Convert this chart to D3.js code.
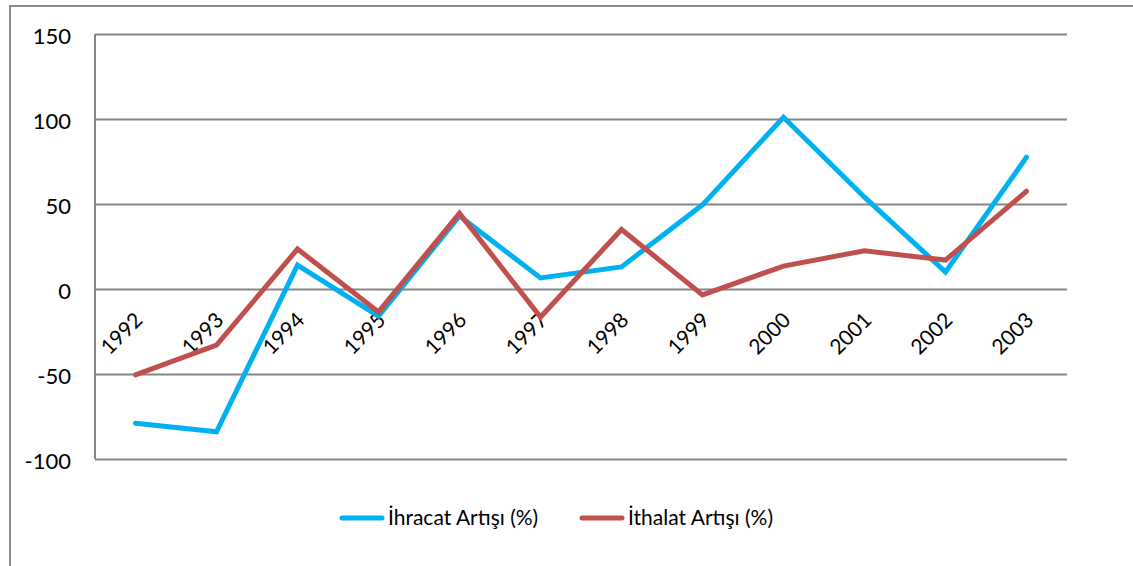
<!DOCTYPE html>
<html>
<head>
<meta charset="utf-8">
<script src="https://cdn.jsdelivr.net/npm/d3@7"></script>
<style>
  body { margin: 0; background: #fff; }
  svg text { font-family: Lato, sans-serif; fill: #000; }
</style>
</head>
<body>
<div id="chart"></div>
<script>
// years on the category axis
var years = ["1992","1993","1994","1995","1996","1997","1998","1999","2000","2001","2002","2003"];
// export growth (%)
var ihracat = [-79, -84, 14, -16, 43, 6.5, 13, 49.5, 101, 54, 10, 77.5];
// import growth (%)
var ithalat = [-50.5, -33, 23.5, -13.5, 44.5, -16.5, 35, -3.5, 13.5, 22.5, 17, 57.5];
var yTicks = [-100, -50, 0, 50, 100, 150];
var seriesNames = ["İhracat Artışı (%)", "İthalat Artışı (%)"];
var colors = ["#00B0F0", "#C0504D"];

var width = 1133, height = 566;
var plot = {left: 95, right: 1067, top: 34, bottom: 459};

var svg = d3.select("#chart").append("svg")
  .attr("width", width)
  .attr("height", height);

// outer chart frame
svg.append("path")
  .attr("d", "M10," + height + "V6H" + width)
  .attr("fill", "none")
  .attr("stroke", "#8c8c8c")
  .attr("stroke-width", 2);

var x = d3.scaleBand()
  .domain(years)
  .range([plot.left, plot.right])
  .padding(0);

var y = d3.scaleLinear()
  .domain([-100, 150])
  .range([plot.bottom, plot.top]);

// y axis with gridlines
var yAxis = svg.append("g")
  .attr("transform", "translate(" + plot.left + ",0)")
  .call(d3.axisLeft(y)
    .tickValues(yTicks)
    .tickSize(-(plot.right - plot.left))
    .tickPadding(24)
    .tickFormat(d3.format("d")));
yAxis.select(".domain").remove();
yAxis.selectAll(".tick line")
  .attr("stroke", "#868686")
  .attr("stroke-width", 2);
yAxis.selectAll(".tick text")
  .attr("font-size", 22)
  .attr("dy", "0.42em")
  .text(function(d) { return d < 0 ? "-" + Math.abs(d) : d; });

// left axis line
svg.append("line")
  .attr("x1", plot.left).attr("x2", plot.left)
  .attr("y1", plot.top).attr("y2", plot.bottom)
  .attr("stroke", "#868686")
  .attr("stroke-width", 2);

// rotated year labels just under the zero line
svg.append("g").selectAll("text")
  .data(years)
  .join("text")
    .attr("transform", function(d) {
      return "translate(" + (x(d) + x.bandwidth() / 2 - 2) + "," + (y(0) + 22) + ") rotate(-45)";
    })
    .attr("text-anchor", "end")
    .attr("dy", "0.7em")
    .attr("font-size", 21)
    .text(function(d) { return d; });

var line = d3.line()
  .x(function(d, i) { return x(years[i]) + x.bandwidth() / 2; })
  .y(function(d) { return y(d); });

[ihracat, ithalat].forEach(function(s, k) {
  svg.append("path")
    .datum(s)
    .attr("d", line)
    .attr("fill", "none")
    .attr("stroke", colors[k])
    .attr("stroke-width", 5)
    .attr("stroke-linejoin", "miter")
    .attr("stroke-linecap", "round");
});

// legend
var legendX = [340, 580];
var legend = svg.append("g").selectAll("g")
  .data(seriesNames)
  .join("g")
    .attr("transform", function(d, i) { return "translate(" + legendX[i] + ",518)"; });
legend.append("line")
  .attr("x1", 2).attr("x2", 42)
  .attr("stroke", function(d, i) { return colors[i]; })
  .attr("stroke-width", 5)
  .attr("stroke-linecap", "round");
legend.append("text")
  .attr("x", 48)
  .attr("dy", "0.35em")
  .attr("font-size", 21)
  .text(function(d) { return d; });
</script>
</body>
</html>
